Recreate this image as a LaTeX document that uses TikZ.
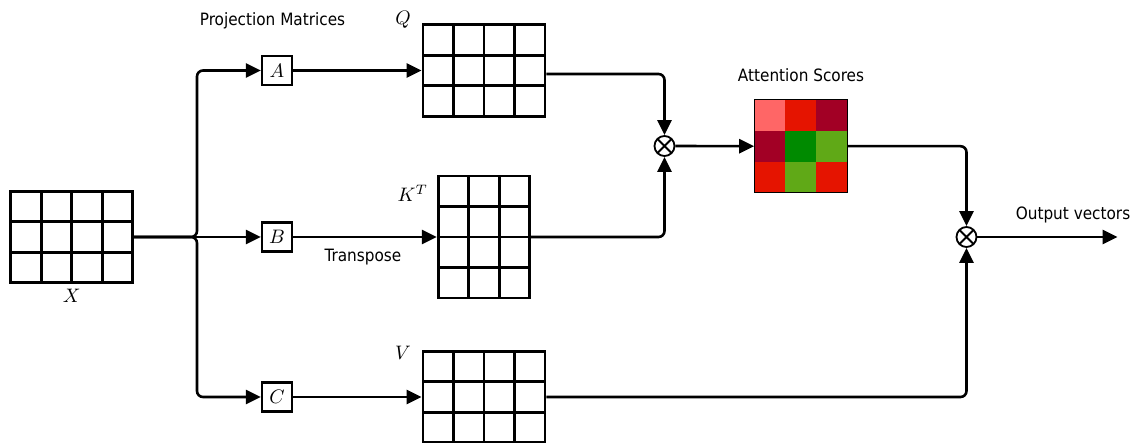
\documentclass[tikz,border=0pt]{standalone}
\usepackage[no-math]{fontspec}
\setmainfont{DejaVu Sans Condensed}
\usepackage{graphicx}
\usepackage{tikz}
\usetikzlibrary{arrows.meta, calc}
\definecolor{scpink}{HTML}{FF6666}
\definecolor{scred}{HTML}{E51400}
\definecolor{sccrimson}{HTML}{A20025}
\definecolor{scgreen}{HTML}{008A00}
\definecolor{sclime}{HTML}{60A917}
\newcommand{\mlbl}[1]{\scalebox{1.95}{$#1$}}
\newcommand{\txtsize}{\fontsize{17}{20}\selectfont}
\tikzset{
  mat/.style 2 args={rectangle,draw,line width=2.8pt,minimum width=#1*30.5pt,
    minimum height=#2*30.5pt,inner sep=0pt,
    path picture={
      \foreach \i in {1,...,#1}
        \draw[line width=2.8pt] ($(path picture bounding box.north west)!\i/#1!(path picture bounding box.north east)$)
          -- ($(path picture bounding box.south west)!\i/#1!(path picture bounding box.south east)$);
      \foreach \j in {1,...,#2}
        \draw[line width=2.8pt] ($(path picture bounding box.north west)!\j/#2!(path picture bounding box.south west)$)
          -- ($(path picture bounding box.north east)!\j/#2!(path picture bounding box.south east)$);
    }},
  proj/.style={rectangle,draw,fill=white,line width=2.2pt,minimum width=30pt,
    minimum height=29pt,inner sep=0pt,font=\normalsize},
  otimes/.style={circle,draw,fill=white,line width=1.8pt,minimum size=20pt,inner sep=0pt,
    path picture={\draw[line width=1.8pt]
      (path picture bounding box.north west) -- (path picture bounding box.south east)
      (path picture bounding box.north east) -- (path picture bounding box.south west);}},
  lbl/.style={inner sep=0pt,font=\normalsize},
  txt/.style={inner sep=0pt,font=\txtsize},
  arrow/.style={-{Triangle[length=15pt,width=14pt]},line width=2.6pt,rounded corners=6pt},
}
\begin{document}
\begin{tikzpicture}[x=1pt, y=-1pt, font=\txtsize]
    \useasboundingbox (0,0) rectangle (1133,443);
    % input X and the three projections
    \node[mat={4}{3}] (X) at (71.7,237) {};
    \node[lbl,anchor=base] (Xlbl) at (71.7,303) {\mlbl{X}};
    \coordinate (split) at (197,237);
    \node[proj] (A) at (277,70.5) {\mlbl{A}};
    \node[proj] (B) at (277,237) {\mlbl{B}};
    \node[proj] (C) at (277,397) {\mlbl{C}};
    \node[txt,anchor=base] (projlbl) at (272.5,26) {Projection Matrices};
    % Q, K^T, V
    \node[mat={4}{3}] (Q) at (484,70.5) {};
    \node[mat={3}{4}] (K) at (484,237) {};
    \node[mat={4}{3}] (V) at (484,397) {};
    \node[lbl,anchor=base east] (Qlbl) at (411,25) {\mlbl{Q}};
    \node[lbl,anchor=base east] (Klbl) at (428,201.5) {\mlbl{K^T}};
    \node[lbl,anchor=base east] (Vlbl) at (411,360) {\mlbl{V}};
    \node[txt,anchor=base] (trlbl) at (363,261.5) {Transpose};
    % attention scores
    \node[minimum width=93pt,minimum height=92.5pt,inner sep=0pt,outer sep=0pt] (S) at (800.7,146.2) {};
    \foreach \c [count=\k from 0] in {scpink,scred,sccrimson,sccrimson,scgreen,sclime,scred,sclime,scred}{
      \pgfmathtruncatemacro\col{mod(\k,3)}
      \pgfmathtruncatemacro\row{\k/3}
      \fill[\c] ($(S.north west)+(\col*31,\row*30.83)$) rectangle ++(31,30.83);
    }
    \draw[line width=1pt] (S.north west) rectangle (S.south east);
    \node[txt,anchor=base] (attlbl) at (801,81.5) {Attention Scores};
    \node[otimes] (M1) at (664.5,146) {};
    \node[otimes] (M2) at (966.5,237) {};
    \coordinate (out) at (1117.5,237);
    \node[txt,anchor=base] (outlbl) at (1073,220) {Output vectors};
    % connectors
    \draw[arrow] (X.east) -- (split) |- (A.west);
    \draw[arrow] (X.east) -- (B.west);
    \draw[arrow] (X.east) -- (split) |- (C.west);
    \draw[arrow] (A.east) -- (Q.west);
    \draw[arrow] (B.east) -- (K.west);
    \draw[arrow] (C.east) -- (V.west);
    \draw[arrow] ([yshift=-3.5pt]Q.east) -| (M1.north);
    \draw[arrow] (K.east) -| (M1.south);
    \draw[arrow] (M1.east) -- (S.west);
    \draw[arrow] (S.east) -| (M2.north);
    \draw[arrow] (V.east) -| (M2.south);
    \draw[arrow] (M2.east) -- (out);
\end{tikzpicture}
\end{document}
